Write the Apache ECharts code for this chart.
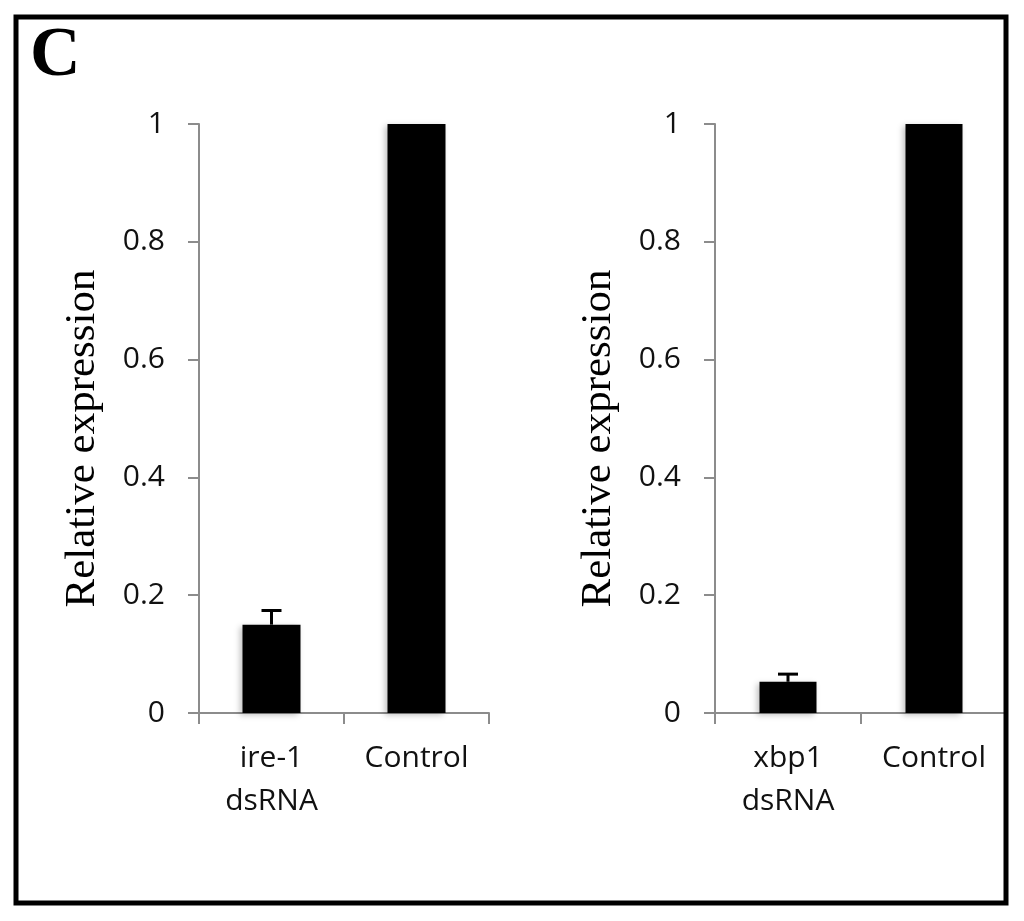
<!DOCTYPE html>
<html>
<head>
<meta charset="utf-8">
<script src="https://cdn.jsdelivr.net/npm/echarts@6/dist/echarts.min.js"></script>
<style>
  html, body { margin: 0; padding: 0; background: #fff; }
  #main { width: 1024px; height: 921px; }
</style>
</head>
<body>
<div id="main"></div>
<script>
// panel C: relative expression after dsRNA knockdown
var leftCategories = ['ire-1\ndsRNA', 'Control'];
var leftValues = [0.15, 1];
var leftErrors = [0.024, 0];

var rightCategories = ['xbp1\ndsRNA', 'Control'];
var rightValues = [0.053, 1];
var rightErrors = [0.013, 0];

var yName = 'Relative expression';
var panelLetter = 'C';

var axisGray = '#8c8c8c';
var textColor = '#111';

function errorData(values, errors) {
    return values.map(function (v, i) { return [i, v, errors[i]]; });
}

function renderError(params, api) {
    var idx = api.value(0);
    var v = api.value(1);
    var e = api.value(2);
    if (!e) {
        return null;
    }
    var base = api.coord([idx, v]);
    var top = api.coord([idx, v + e]);
    var style = { stroke: '#000', lineWidth: 3 };
    return {
        type: 'group',
        children: [
            { type: 'line', shape: { x1: base[0], y1: base[1], x2: top[0], y2: top[1] }, style: style },
            { type: 'line', shape: { x1: top[0] - 10, y1: top[1], x2: top[0] + 10, y2: top[1] }, style: style }
        ]
    };
}

function xAxisFor(gridIndex, cats) {
    return {
        type: 'category',
        gridIndex: gridIndex,
        data: cats,
        axisLine: { lineStyle: { color: axisGray, width: 2 } },
        axisTick: { show: true, length: 11, lineStyle: { color: axisGray, width: 2 } },
        axisLabel: {
            margin: 24,
            color: textColor,
            fontFamily: 'Open Sans',
            fontSize: 30,
            lineHeight: 43
        }
    };
}

function yAxisFor(gridIndex) {
    return {
        type: 'value',
        gridIndex: gridIndex,
        min: 0,
        max: 1,
        interval: 0.2,
        name: yName,
        nameLocation: 'middle',
        nameGap: 95,
        nameTextStyle: {
            fontFamily: 'Liberation Serif',
            fontSize: 43,
            color: '#000',
            padding: [0, 40, 0, 0]
        },
        splitLine: { show: false },
        axisLine: { show: true, lineStyle: { color: axisGray, width: 2 } },
        axisTick: { show: true, length: 11, lineStyle: { color: axisGray, width: 2 } },
        axisLabel: {
            margin: 34,
            color: textColor,
            fontFamily: 'Open Sans',
            fontSize: 30
        }
    };
}

var barStyle = {
    color: '#000',
    shadowBlur: 6,
    shadowColor: 'rgba(0,0,0,0.25)',
    shadowOffsetX: -3,
    shadowOffsetY: 2
};

var option = {
    backgroundColor: '#fff',
    animation: false,
    graphic: [
        {
            type: 'rect',
            shape: { x: 16, y: 17, width: 990, height: 886 },
            style: { fill: 'none', stroke: '#000', lineWidth: 5 },
            z: 100
        },
        {
            type: 'text',
            style: {
                x: 30, y: 57,
                text: panelLetter,
                font: 'bold 70px "Liberation Serif"',
                fill: '#000',
                textVerticalAlign: 'middle'
            }
        }
    ],
    grid: [
        { left: 199, top: 124, width: 290, height: 589 },
        { left: 715, top: 124, width: 292, height: 589 }
    ],
    xAxis: [xAxisFor(0, leftCategories), xAxisFor(1, rightCategories)],
    yAxis: [yAxisFor(0), yAxisFor(1)],
    series: [
        {
            type: 'bar',
            xAxisIndex: 0, yAxisIndex: 0,
            barWidth: 58,
            data: leftValues,
            itemStyle: barStyle
        },
        {
            type: 'custom',
            xAxisIndex: 0, yAxisIndex: 0,
            renderItem: renderError,
            data: errorData(leftValues, leftErrors),
            z: 10
        },
        {
            type: 'bar',
            xAxisIndex: 1, yAxisIndex: 1,
            barWidth: 57,
            data: rightValues,
            itemStyle: barStyle
        },
        {
            type: 'custom',
            xAxisIndex: 1, yAxisIndex: 1,
            renderItem: renderError,
            data: errorData(rightValues, rightErrors),
            z: 10
        }
    ]
};

var chart = echarts.init(document.getElementById('main'));
chart.setOption(option);
</script>
</body>
</html>
